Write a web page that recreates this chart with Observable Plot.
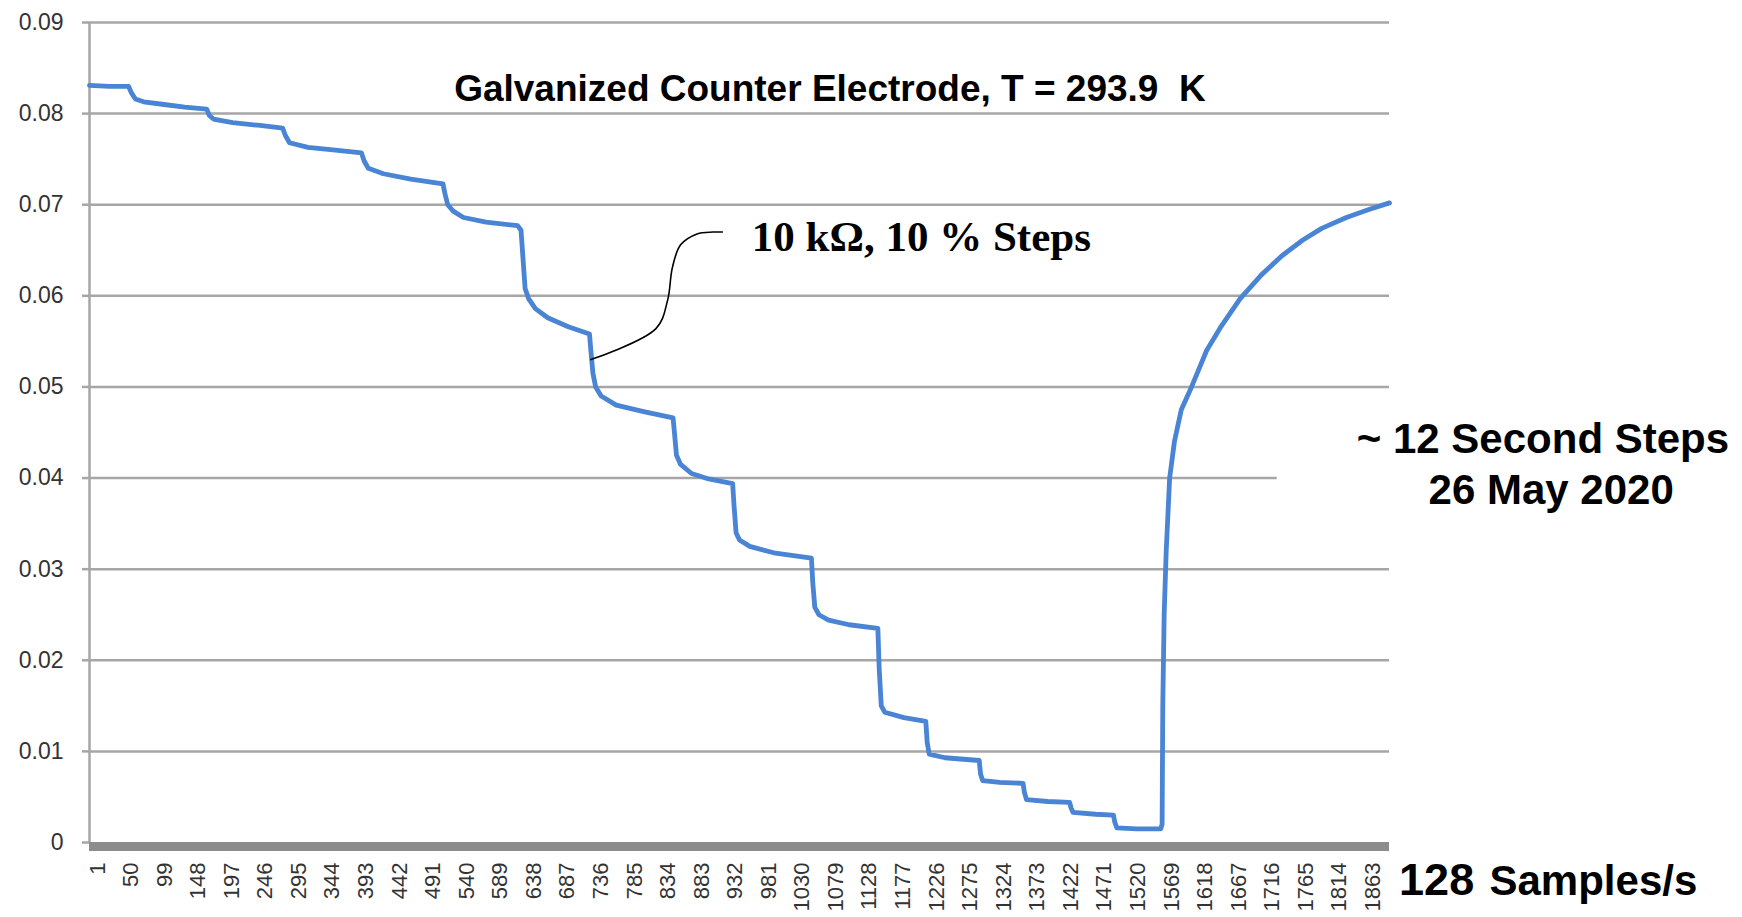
<!DOCTYPE html>
<html>
<head>
<meta charset="utf-8">
<script src="https://cdn.jsdelivr.net/npm/d3@7"></script>
<script src="https://cdn.jsdelivr.net/npm/@observablehq/plot@0.6"></script>
<style>
  html, body { margin: 0; padding: 0; background: #fff; overflow: hidden; }
  #chart svg { display: block; }
</style>
</head>
<body>
<div id="chart"></div>
<script>
// ---- data ----
const sampleIndex = [
  1, 30, 58, 62, 68, 80, 110, 140, 172, 176, 182, 210, 250, 283, 287, 293, 320, 360, 398,
  402, 408, 430, 470, 517, 520, 524, 532, 547, 580, 626, 631, 634, 637, 642, 652, 670, 700, 731,
  733, 736, 740, 748, 770, 810, 853, 855, 858, 864, 880, 905, 940, 942, 945, 950, 965, 1000, 1055,
  1057, 1060, 1066, 1080, 1110, 1152, 1154, 1157, 1162, 1190, 1222, 1224, 1227, 1250, 1300,
  1302, 1305, 1330, 1364, 1366, 1369, 1400, 1432, 1434, 1437, 1470, 1496, 1498, 1501, 1530, 1565,
  1567, 1568, 1570, 1573, 1578, 1585, 1595, 1610, 1632, 1652, 1681, 1712, 1742, 1772, 1800, 1836, 1870, 1899
];
const voltage = [
  0.0831, 0.0830, 0.0830, 0.0823, 0.0816, 0.0813, 0.0810, 0.0807, 0.0805, 0.0798, 0.0794, 0.0790, 0.0787, 0.0784, 0.0776, 0.0768, 0.0763, 0.0760, 0.0757,
  0.0748, 0.0740, 0.0734, 0.0728, 0.0723, 0.0712, 0.0700, 0.0693, 0.0686, 0.0681, 0.0677, 0.0672, 0.0640, 0.0608, 0.0597, 0.0586, 0.0576, 0.0566, 0.0558,
  0.0540, 0.0515, 0.0500, 0.0490, 0.0480, 0.0473, 0.0466, 0.0450, 0.0425, 0.0415, 0.0405, 0.0399, 0.0394, 0.0370, 0.0340, 0.0332, 0.0325, 0.0318, 0.0312,
  0.0285, 0.0258, 0.0250, 0.0244, 0.0239, 0.0235, 0.0190, 0.0150, 0.0143, 0.0137, 0.0133, 0.0110, 0.0097, 0.0093, 0.0090,
  0.0075, 0.0068, 0.0066, 0.0065, 0.0055, 0.0047, 0.0045, 0.0044, 0.0038, 0.0033, 0.0031, 0.0030, 0.0022, 0.0016, 0.0015, 0.0015,
  0.0020, 0.0150, 0.0250, 0.0320, 0.0400, 0.0440, 0.0475, 0.0500, 0.0540, 0.0565, 0.0597, 0.0623, 0.0644, 0.0661, 0.0674, 0.0686, 0.0695, 0.0702
];
const xTickValues = [1, 50, 99, 148, 197, 246, 295, 344, 393, 442, 491, 540, 589, 638, 687, 736, 785, 834, 883, 932,
  981, 1030, 1079, 1128, 1177, 1226, 1275, 1324, 1373, 1422, 1471, 1520, 1569, 1618, 1667, 1716, 1765, 1814, 1863];
const yTickValues = [0, 0.01, 0.02, 0.03, 0.04, 0.05, 0.06, 0.07, 0.08, 0.09];
const yTickLabels = ["0", "0.01", "0.02", "0.03", "0.04", "0.05", "0.06", "0.07", "0.08", "0.09"];
const gridValues = [0.01, 0.02, 0.03, 0.04, 0.05, 0.06, 0.07, 0.08, 0.09];
const gridEnds   = [1899, 1899, 1899, 1735, 1899, 1899, 1899, 1899, 1899];
const lastSample = 1899;

// annotation leader line (in data units)
const leaderS = [733, 828, 845, 852, 864, 888, 911, 925];
const leaderV = [0.0530, 0.0564, 0.0595, 0.0631, 0.0656, 0.0668, 0.0670, 0.0670];

const titleText = "Galvanized Counter Electrode, T = 293.9  K";
const noteText = "10 k\u03A9, 10 % Steps";
const sideLine1 = "~ 12 Second Steps";
const sideLine2 = "26 May 2020";
const rateNumber = "128";
const rateUnit = "Samples/s";

// ---- build tables ----
const series = sampleIndex.map((s, i) => ({s, v: voltage[i]}));
const grid = gridValues.map((v, i) => ({v, end: gridEnds[i]}));
const leader = leaderS.map((s, i) => ({s, v: leaderV[i]}));

const gridColor = "#a6a6a6";
const sans = "'Liberation Sans', Arial, sans-serif";

const chart = Plot.plot({
  width: 1742,
  height: 917,
  marginLeft: 89,
  marginRight: 353,
  marginTop: 22,
  marginBottom: 75,
  style: {fontFamily: sans, background: "#fff", overflow: "visible"},
  x: {type: "linear", domain: [1, lastSample]},
  y: {domain: [0, 0.09]},
  marks: [
    Plot.ruleY(grid, {y: "v", x1: 1, x2: "end", stroke: gridColor, strokeWidth: 2.5}),
    Plot.ruleX([1], {y1: 0, y2: 0.09, stroke: gridColor, strokeWidth: 2.5}),
    Plot.axisY({ticks: yTickValues, tickSize: 7, tickPadding: 19, stroke: gridColor, strokeWidth: 2.5,
      fill: "#333", fontSize: 23, tickFormat: (d, i) => yTickLabels[i], label: null}),
    Plot.axisX({ticks: xTickValues, tickSize: 0, tickPadding: 20, tickRotate: -90, dx: 8,
      fill: "#333", fontSize: 22, tickFormat: d => String(d), label: null}),
    Plot.ruleY([0], {stroke: "#8c8c8c", strokeWidth: 9, dy: 4}),
    Plot.line(series, {x: "s", y: "v", stroke: "#4a84d4", strokeWidth: 4.8, strokeLinejoin: "round", strokeLinecap: "round"}),
    Plot.line(leader, {x: "s", y: "v", curve: "catmull-rom", stroke: "#000", strokeWidth: 1.6}),
    Plot.text([titleText], {x: 1082, y: 0.0814, text: d => d, textAnchor: "middle", lineAnchor: "bottom",
      fontSize: 37, fontWeight: "bold", fill: "#000", fontFamily: sans}),
    Plot.text([noteText], {x: 968, y: 0.0649, text: d => d, textAnchor: "start", lineAnchor: "bottom",
      fontSize: 43, fontWeight: "bold", fill: "#000", fontFamily: "'Liberation Serif', 'Times New Roman', serif"}),
    Plot.text([sideLine1], {x: 2123, y: 0.0427, text: d => d, textAnchor: "middle", lineAnchor: "bottom",
      fontSize: 42, fontWeight: "bold", fill: "#000", fontFamily: sans}),
    Plot.text([sideLine2], {x: 2135, y: 0.0372, text: d => d, textAnchor: "middle", lineAnchor: "bottom",
      fontSize: 42, fontWeight: "bold", fill: "#000", fontFamily: sans}),
    Plot.text([rateNumber], {x: 1913, y: -0.0058, text: d => d, textAnchor: "start", lineAnchor: "bottom",
      fontSize: 45, fontWeight: "bold", fill: "#000", fontFamily: sans}),
    Plot.text([rateUnit], {x: 2045, y: -0.0058, text: d => d, textAnchor: "start", lineAnchor: "bottom",
      fontSize: 42, fontWeight: "bold", fill: "#000", fontFamily: sans})
  ]
});
document.getElementById("chart").append(chart);
</script>
</body>
</html>
